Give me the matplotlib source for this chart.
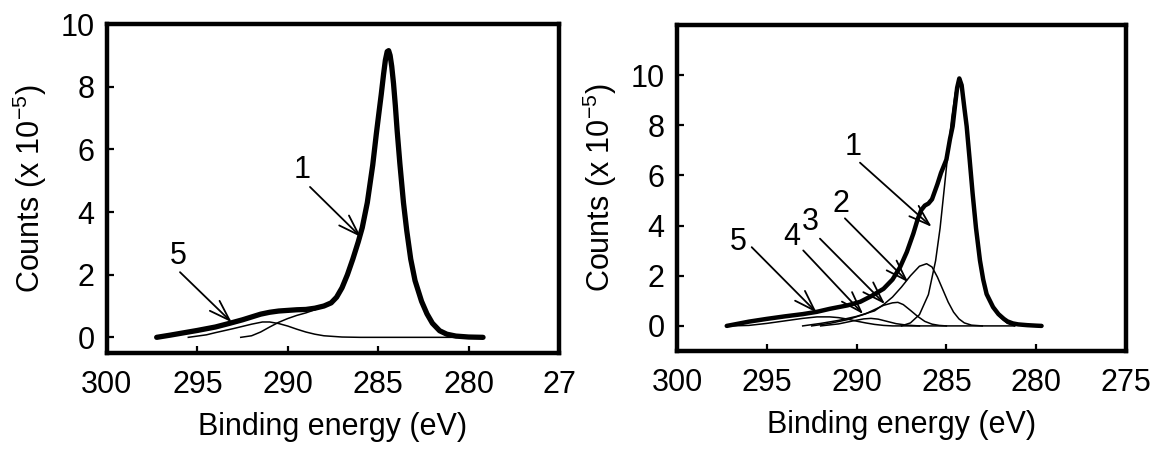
import numpy as np
import matplotlib
matplotlib.use("Agg")
import matplotlib.pyplot as plt

plt.rcParams['font.family'] = ['Liberation Sans', 'DejaVu Sans']
plt.rcParams['mathtext.default'] = 'regular'

# ---- left panel: C1s spectrum, sample A (eV, counts x 1e-5) ----
left_env_x = [297.25, 296.5, 296.0, 295.0, 294.0, 293.2, 292.5, 292.0, 291.5, 291.0,
              290.5, 290.0, 289.5, 289.0, 288.5, 288.0, 287.6, 287.3, 287.0, 286.7,
              286.4, 286.1, 285.88, 285.6, 285.3, 285.1, 284.95, 284.83, 284.7, 284.6,
              284.5, 284.42, 284.34, 284.25, 284.15, 284.05, 283.95, 283.8, 283.6, 283.42,
              283.2, 282.96, 282.6, 282.3, 282.0, 281.6, 281.2, 280.7, 280.0, 279.2]
left_env_y = [0.00, 0.07, 0.12, 0.22, 0.33, 0.45, 0.56, 0.65, 0.74, 0.80,
              0.84, 0.86, 0.88, 0.89, 0.93, 1.00, 1.10, 1.28, 1.58, 2.00,
              2.50, 3.05, 3.50, 4.30, 5.50, 6.50, 7.20, 7.75, 8.40, 8.85,
              9.12, 9.15, 9.00, 8.65, 8.10, 7.40, 6.60, 5.55, 4.30, 3.41,
              2.50, 1.81, 1.15, 0.75, 0.45, 0.21, 0.10, 0.04, 0.01, 0.00]

left_c1_x = [292.6, 292.0, 291.5, 291.0, 290.5, 290.0, 289.5, 289.0, 288.5, 288.0,
             287.6, 287.3, 287.0, 286.7, 286.4, 286.1, 285.88, 285.6, 285.3, 285.1,
             284.95, 284.83, 284.7, 284.6, 284.5, 284.42, 284.34, 284.25, 284.15, 284.05,
             283.95, 283.8, 283.6, 283.42, 283.2, 282.96, 282.6, 282.3, 282.0, 281.6,
             281.2, 280.7]
left_c1_y = [0.00, 0.05, 0.17, 0.33, 0.48, 0.60, 0.70, 0.78, 0.88, 0.98,
             1.08, 1.26, 1.56, 1.98, 2.48, 3.03, 3.48, 4.28, 5.48, 6.48,
             7.18, 7.73, 8.38, 8.83, 9.10, 9.13, 8.98, 8.63, 8.08, 7.38,
             6.58, 5.53, 4.28, 3.39, 2.48, 1.79, 1.13, 0.73, 0.43, 0.19,
             0.06, 0.00]

left_c5_x = [295.5, 294.5, 294.0, 293.0, 292.0, 291.4, 291.0, 290.5, 290.0, 289.5,
             289.0, 288.5, 288.0, 287.0, 286.0, 280.5]
left_c5_y = [0.00, 0.08, 0.15, 0.28, 0.42, 0.49, 0.49, 0.44, 0.36, 0.26,
             0.17, 0.10, 0.05, 0.01, 0.00, 0.00]

# ---- right panel: C1s spectrum, sample B ----
right_env_x = [297.23, 296.5, 296.0, 295.0, 294.0, 293.0, 292.22, 291.5, 290.5, 289.8,
               289.2, 288.5, 288.0, 287.58, 287.2, 286.84, 286.6, 286.4, 286.2, 286.0,
               285.8, 285.5, 285.3, 285.0, 284.8, 284.65, 284.5, 284.4, 284.28, 284.15,
               284.0, 283.87, 283.7, 283.54, 283.35, 283.13, 282.95, 282.76, 282.4, 282.1,
               281.8, 281.6, 281.3, 281.0, 280.5, 280.0, 279.7]
right_env_y = [0.00, 0.10, 0.17, 0.28, 0.38, 0.47, 0.56, 0.68, 0.82, 0.96,
               1.18, 1.48, 1.85, 2.34, 2.95, 3.68, 4.25, 4.62, 4.80, 4.88,
               5.05, 5.65, 6.10, 6.63, 7.45, 7.96, 8.90, 9.50, 9.87, 9.60,
               8.70, 7.96, 6.60, 5.29, 3.90, 2.61, 1.85, 1.27, 0.75, 0.47,
               0.28, 0.18, 0.10, 0.06, 0.03, 0.01, 0.00]

right_c1_x = [287.5, 287.0, 286.5, 286.0, 285.6, 285.35, 285.1, 284.9, 284.7, 284.5,
              284.28, 284.15, 284.0, 283.87, 283.7, 283.54, 283.35, 283.13, 282.95, 282.76,
              282.4, 282.1, 281.8, 281.6, 281.2]
right_c1_y = [0.00, 0.12, 0.45, 1.25, 2.60, 3.90, 5.60, 7.00, 8.30, 9.30,
              9.85, 9.58, 8.68, 7.94, 6.58, 5.27, 3.88, 2.59, 1.83, 1.25,
              0.72, 0.42, 0.22, 0.10, 0.00]

right_c2_x = [293.0, 292.0, 291.0, 290.0, 289.0, 288.5, 288.0, 287.5, 287.0, 286.5,
              286.1, 285.8, 285.5, 285.2, 284.9, 284.6, 284.3, 284.0, 283.6, 283.0]
right_c2_y = [0.00, 0.10, 0.22, 0.38, 0.60, 0.85, 1.15, 1.55, 2.00, 2.38,
              2.48, 2.35, 1.95, 1.45, 0.95, 0.55, 0.28, 0.12, 0.03, 0.00]

right_c3_x = [292.5, 291.5, 290.5, 289.5, 289.0, 288.5, 288.0, 287.7, 287.4, 287.0,
              286.6, 286.2, 285.8, 285.4, 285.0]
right_c3_y = [0.00, 0.10, 0.25, 0.48, 0.65, 0.82, 0.92, 0.94, 0.85, 0.62,
              0.38, 0.18, 0.07, 0.02, 0.00]

right_c4_x = [292.0, 291.0, 290.2, 289.6, 289.2, 288.8, 288.3, 287.8, 287.2, 286.5]
right_c4_y = [0.00, 0.08, 0.20, 0.28, 0.30, 0.27, 0.18, 0.09, 0.03, 0.00]

right_c5_x = [297.0, 296.0, 295.0, 294.0, 293.0, 292.2, 291.5, 291.0, 290.5, 290.0,
              289.5, 289.0, 288.5, 288.0, 281.2]
right_c5_y = [0.00, 0.02, 0.10, 0.20, 0.30, 0.36, 0.36, 0.33, 0.27, 0.19,
              0.12, 0.06, 0.02, 0.00, 0.00]

# peak labels: (text, label pos, arrow tail, arrow tip) in data coords
left_labels = [('1', (289.2, 5.33), (288.77, 4.80), (285.95, 3.20)),
               ('5', (296.07, 2.61), (295.96, 2.08), (293.10, 0.48))]
right_labels = [('1', (290.2, 7.15), (289.81, 6.51), (285.82, 3.95)),
                ('2', (290.87, 4.86), (290.65, 4.29), (287.12, 1.74)),
                ('3', (292.59, 4.14), (292.04, 3.48), (288.42, 0.87)),
                ('4', (293.60, 3.53), (292.97, 3.01), (289.63, 0.47)),
                ('5', (296.60, 3.33), (295.84, 3.14), (292.22, 0.53))]

x_ticks = [300, 295, 290, 285, 280, 275]
left_xticklabels = ['300', '295', '290', '285', '280', '27']
right_xticklabels = ['300', '295', '290', '285', '280', '275']
y_ticks = [0, 2, 4, 6, 8, 10]

FS = 22

def style_axes(ax, ylim, xlabels):
    ax.set_xlim(300, 275)
    ax.set_ylim(*ylim)
    ax.set_xticks(x_ticks)
    ax.set_xticklabels(xlabels)
    ax.set_yticks(y_ticks)
    for s in ax.spines.values():
        s.set_linewidth(3.2)
    ax.tick_params(direction='in', length=5, width=1.6, labelsize=FS,
                   top=False, right=False)
    ax.tick_params(axis='x', pad=12)
    ax.tick_params(axis='y', pad=9)
    ax.set_xlabel('Binding energy (eV)', fontsize=FS, labelpad=9)
    ax.set_ylabel('Counts (x 10$^{-5}$)', fontsize=FS, labelpad=8)

def draw_labels(ax, labels):
    for txt, lp, tail, tip in labels:
        ax.annotate('', xy=tip, xytext=tail,
                    arrowprops=dict(arrowstyle='->,head_length=0.75,head_width=0.25',
                                    lw=1.3, color='black', mutation_scale=20,
                                    shrinkA=0, shrinkB=0))
        ax.text(lp[0], lp[1], txt, fontsize=FS, ha='center', va='center')

fig = plt.figure(figsize=(11.65, 4.49), dpi=100)

ax1 = fig.add_axes([0.0918, 0.2138, 0.388, 0.7327])
ax1.plot(left_c1_x, left_c1_y, color='black', lw=1.1)
ax1.plot(left_c5_x, left_c5_y, color='black', lw=1.1)
ax1.plot(left_env_x, left_env_y, color='black', lw=3.8,
         solid_capstyle='round', solid_joinstyle='round')
style_axes(ax1, (-0.5, 10), left_xticklabels)
draw_labels(ax1, left_labels)

ax2 = fig.add_axes([0.5811, 0.2183, 0.3854, 0.726])
for cx, cy in [(right_c1_x, right_c1_y), (right_c2_x, right_c2_y),
               (right_c3_x, right_c3_y), (right_c4_x, right_c4_y),
               (right_c5_x, right_c5_y)]:
    ax2.plot(cx, cy, color='black', lw=1.1)
ax2.plot(right_env_x, right_env_y, color='black', lw=3.2,
         solid_capstyle='round', solid_joinstyle='round')
style_axes(ax2, (-1, 12), right_xticklabels)
draw_labels(ax2, right_labels)

fig.savefig('out.png', dpi=100)
